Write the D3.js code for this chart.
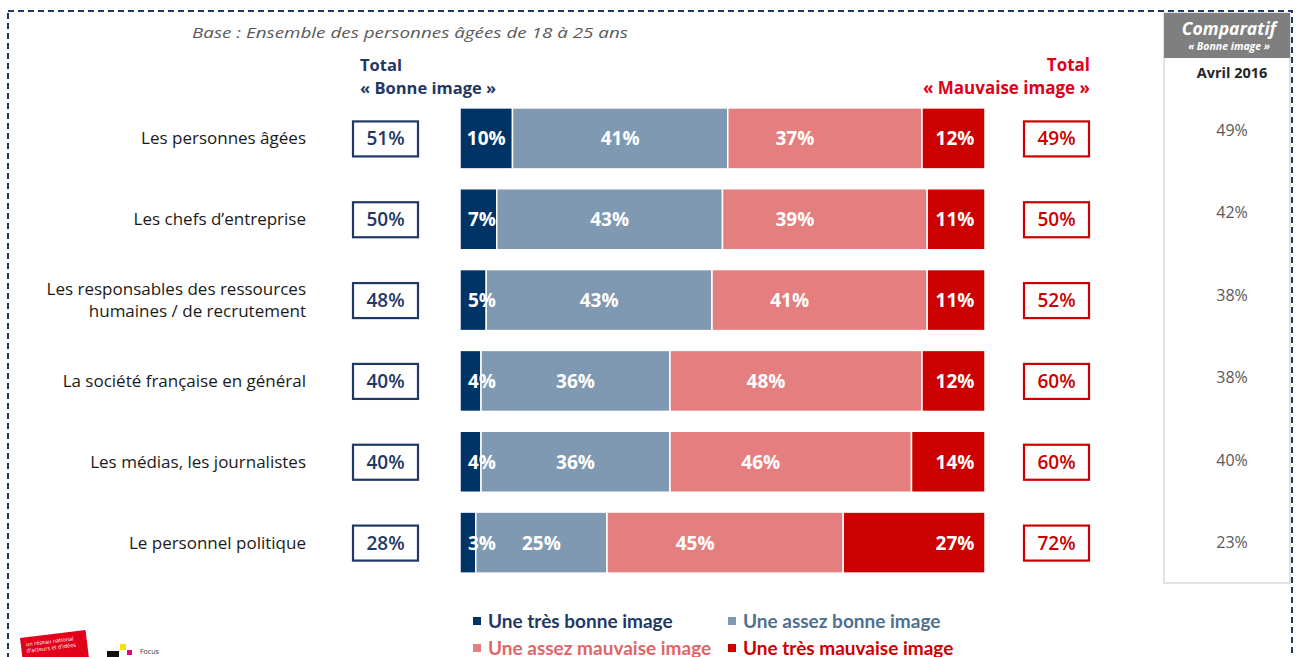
<!DOCTYPE html>
<html><head><meta charset="utf-8">
<script src="https://cdn.jsdelivr.net/npm/d3@7"></script>
<style>
html,body{margin:0;padding:0;background:#fff;}
svg{display:block;font-family:"Open Sans",Lato,sans-serif;}
</style></head>
<body>
<svg id="chart" width="1296" height="657"></svg>
<script>
const categories = [
  ["Les personnes âgées"],
  ["Les chefs d’entreprise"],
  ["Les responsables des ressources","humaines / de recrutement"],
  ["La société française en général"],
  ["Les médias, les journalistes"],
  ["Le personnel politique"]
];
const seriesNames = ["Une très bonne image","Une assez bonne image","Une assez mauvaise image","Une très mauvaise image"];
const tresBonne = [10,7,5,4,4,3];
const assezBonne = [41,43,43,36,36,25];
const assezMauvaise = [37,39,41,48,46,45];
const tresMauvaise = [12,11,11,12,14,27];
const totalBonne = [51,50,48,40,40,28];
const totalMauvaise = [49,50,52,60,60,72];
const comparatif = [49,42,38,38,40,23];
const comparatifLabel = "Avril 2016";

const colors = ["#003366","#7f99b2","#e57e7e","#cc0000"];
const legendText = ["#1f3864","#4f6f91","#e06666","#cc0000"];

const svg = d3.select("#chart");
const series = [tresBonne, assezBonne, assezMauvaise, tresMauvaise];
const idx = d3.range(categories.length);

const x = d3.scaleLinear().domain([0,100]).range([460,985]);
const y = d3.scaleBand().domain(idx).range([98,583]).paddingInner(0.245).paddingOuter(0.1225);
const yc = d3.scalePoint().domain(idx).range([130,542]);

// dashed frame
svg.append("rect").attr("x",8).attr("y",11).attr("width",1284).attr("height",700)
  .attr("fill","none").attr("stroke","#1f3864").attr("stroke-width",2).attr("stroke-dasharray","6,4");

// base text
svg.append("text").attr("x",192).attr("y",38).attr("font-style","italic").attr("font-size",15)
  .attr("fill","#595959").attr("textLength",436).attr("lengthAdjust","spacingAndGlyphs")
  .text("Base : Ensemble des personnes âgées de 18 à 25 ans");

// headers
svg.append("text").attr("x",360).attr("y",71).attr("font-weight","bold").attr("font-size",16.5).attr("fill","#1f3864").text("Total");
svg.append("text").attr("x",360).attr("y",94).attr("font-weight","bold").attr("font-size",16.5).attr("fill","#1f3864").text("« Bonne image  »");
svg.append("text").attr("x",1090).attr("y",71).attr("text-anchor","end").attr("font-weight","bold").attr("font-size",17).attr("fill","#e0001b").text("Total");
svg.append("text").attr("x",1090).attr("y",94).attr("text-anchor","end").attr("font-weight","bold").attr("font-size",17).attr("fill","#e0001b").text("« Mauvaise image »");

// category labels
const catG = svg.append("g");
idx.forEach(i => {
  const lines = categories[i];
  const cy = y(i) + y.bandwidth()/2;
  const t = catG.append("text").attr("text-anchor","end").attr("font-size",17).attr("fill","#1a1a1a");
  lines.forEach((l,k) => {
    t.append("tspan").attr("x",306).attr("y", cy + 6 + (k - (lines.length-1)/2)*22).text(l);
  });
});

// stacked bars
const stackData = idx.map(i => {
  let acc = 0;
  return series.map((s,k) => { const d = {i, k, v: s[i], x0: acc, x1: acc + s[i]}; acc += s[i]; return d; });
});
const barG = svg.append("g");
stackData.forEach(row => {
  row.forEach(d => {
    barG.append("rect").attr("x",x(d.x0)).attr("y",y(d.i)).attr("width",x(d.x1)-x(d.x0))
      .attr("height",y.bandwidth()).attr("fill",colors[d.k]).attr("stroke","#fff").attr("stroke-width",1.5);
  });
  row.forEach(d => {
    let cx = (x(d.x0)+x(d.x1))/2;
    if (d.k === 0) cx = Math.max(cx, x(d.x0)+22);
    if (d.k === 2) cx = cx - 30;
    if (d.k === 3) cx = x(d.x1) - 30;
    barG.append("text").attr("x",cx).attr("y",y(d.i)+y.bandwidth()/2+7).attr("text-anchor","middle")
      .attr("font-weight","bold").attr("font-size",19).attr("fill","#fff").text(d.v+"%");
  });
});

// total boxes
idx.forEach(i => {
  const cy = y(i) + y.bandwidth()/2;
  svg.append("rect").attr("x",353).attr("y",cy-17).attr("width",65).attr("height",35)
    .attr("fill","#fff").attr("stroke","#1f3864").attr("stroke-width",2.2);
  svg.append("text").attr("x",385.5).attr("y",cy+7).attr("text-anchor","middle").attr("font-size",19)
    .attr("font-weight",600).attr("fill","#1f3864").text(totalBonne[i]+"%");
  svg.append("rect").attr("x",1024).attr("y",cy-17).attr("width",65).attr("height",35)
    .attr("fill","#fff").attr("stroke","#cc0000").attr("stroke-width",2.2);
  svg.append("text").attr("x",1056.5).attr("y",cy+7).attr("text-anchor","middle").attr("font-size",19)
    .attr("font-weight",600).attr("fill","#cc0000").text(totalMauvaise[i]+"%");
});

// comparatif panel
svg.append("rect").attr("x",1164).attr("y",13).attr("width",126).attr("height",570)
  .attr("fill","#fff").attr("stroke","#d9d9d9").attr("stroke-width",1.5);
svg.append("rect").attr("x",1164).attr("y",13).attr("width",126).attr("height",45).attr("fill","#7f7f7f");
svg.append("text").attr("x",1229).attr("y",35).attr("text-anchor","middle").attr("font-weight","bold")
  .attr("font-style","italic").attr("font-size",17.5).attr("fill","#fff").text("Comparatif");
svg.append("text").attr("x",1229).attr("y",50).attr("text-anchor","middle").attr("font-weight","bold")
  .attr("font-style","italic").attr("font-size",10.5).attr("fill","#fff").text("« Bonne image »");
svg.append("text").attr("x",1232).attr("y",78).attr("text-anchor","middle").attr("font-weight","bold")
  .attr("font-size",14.5).attr("fill","#262626").text(comparatifLabel);
idx.forEach(i => {
  svg.append("text").attr("x",1232).attr("y",yc(i)+6).attr("text-anchor","middle").attr("font-size",16)
    .attr("fill","#595959").text(comparatif[i]+"%");
});

// legend
const legPos = [[473,621],[728,621],[473,648],[728,648]];
seriesNames.forEach((n,k) => {
  const [lx,ly] = legPos[k];
  svg.append("rect").attr("x",lx).attr("y",ly-4).attr("width",8).attr("height",8).attr("fill",colors[k]);
  svg.append("text").attr("x",lx+15).attr("y",ly+6.5).attr("font-family","'Liberation Sans Narrow',Lato,sans-serif")
    .attr("font-weight","bold").attr("font-size",19)
    .attr("fill",legendText[k]).text(n);
});

// logos (decorative)
const lg = svg.append("g").attr("transform","translate(20,638) rotate(-7)");
lg.append("rect").attr("x",0).attr("y",0).attr("width",66).attr("height",28).attr("fill","#e2001a");
lg.append("text").attr("x",5).attr("y",9).attr("font-size",5.5).attr("fill","#fff").text("un réseau national");
lg.append("text").attr("x",5).attr("y",15.5).attr("font-size",5.5).attr("fill","#fff").text("d'acteurs et d'idées");
svg.append("rect").attr("x",107).attr("y",651).attr("width",12).attr("height",8).attr("fill","#111");
svg.append("rect").attr("x",120).attr("y",644).attr("width",6).attr("height",6).attr("fill","#f5e000");
svg.append("rect").attr("x",127).attr("y",650).attr("width",5).attr("height",5).attr("fill","#e5007d");
svg.append("text").attr("x",140).attr("y",654).attr("font-size",7).attr("fill","#333").text("Focus");
</script>
</body></html>
